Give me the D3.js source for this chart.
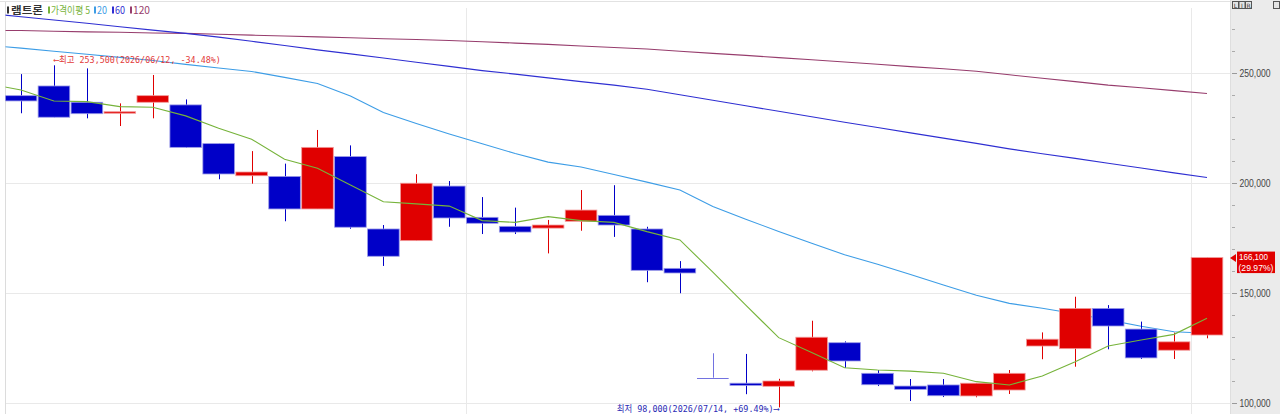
<!DOCTYPE html>
<html><head><meta charset="utf-8">
<script src="https://cdn.jsdelivr.net/npm/d3@7"></script>
<style>html,body{margin:0;padding:0;background:#fff;overflow:hidden}</style>
</head><body><svg id="c" width="1280" height="414"></svg>
<script>
// ---- data (first date is the session before the visible window; only its MA values are used) ----
const dates = ["2026/06/10","2026/06/11","2026/06/12","2026/06/15","2026/06/16","2026/06/17","2026/06/18","2026/06/19",
"2026/06/22","2026/06/23","2026/06/24","2026/06/25","2026/06/26","2026/06/29","2026/06/30","2026/07/01","2026/07/02",
"2026/07/03","2026/07/06","2026/07/07","2026/07/08","2026/07/09","2026/07/10","2026/07/13","2026/07/14","2026/07/15",
"2026/07/16","2026/07/17","2026/07/20","2026/07/21","2026/07/22","2026/07/23","2026/07/24","2026/07/27","2026/07/28",
"2026/07/29","2026/07/30","2026/07/31"];
const openV  = [null,239700,244100,236700,231700,236700,235500,217900,203300,203000,188200,212000,179100,173800,198600,184400,180300,179500,182600,185300,179100,161200,111500,109000,107600,114900,127400,113500,107700,108200,103200,105900,125900,124700,143000,133600,124000,130900];
const highV  = [null,249500,253500,252100,236200,249100,238000,217900,214500,208800,224100,217100,180900,204000,200900,193600,188800,183200,196800,199000,180100,164500,122600,122300,111000,137400,128000,115000,110900,110900,109000,115000,132100,148300,144500,137000,132000,166100];
const lowV   = [null,231700,229900,229400,225900,229400,216000,201700,199700,182600,188200,179200,162300,173800,180100,176800,176800,168000,178300,175500,154900,149900,111500,104000,98000,114400,116000,107700,100900,102700,102600,104100,119900,116500,124400,120000,120000,129400];
const closeV = [null,237300,229900,231500,232400,239700,216200,204100,205000,188200,216200,179900,166700,199900,184100,181700,177700,180900,187700,180900,160300,159100,111500,108000,110000,129900,119100,108300,106200,103300,109000,113500,129000,143000,135000,120500,127800,166100];
const ma5   = [245100,242300,237300,237000,234700,234400,230500,224900,219900,210800,206700,199100,191500,190500,189500,182900,182100,184700,182900,182100,177900,174100,159500,144500,129700,123000,116000,115000,114500,113500,109700,108200,112300,118800,125900,128600,131200,138500];
const ma20  = [262600,261300,259900,258500,257100,255700,253900,252300,250700,248000,245200,239500,232000,227000,222300,217800,213400,209500,207300,203900,200400,196800,189300,183500,178000,172600,167400,163100,158400,153600,149000,145300,143100,140600,137800,134900,132400,131700];
const ma60  = [277100,275600,274100,272600,271000,269500,268000,266300,264400,262500,260500,258700,256800,254900,253000,251100,249500,247800,246100,244500,242600,240100,237600,235100,232600,230100,227600,225200,222800,220400,218000,215500,213300,211200,209000,206800,204600,202500];
const ma120 = [269400,269300,269000,268700,268500,268200,268000,267600,267200,266800,266400,266000,265600,265200,264800,264200,263600,263000,262300,261600,260900,259900,258900,258000,257000,256000,255000,254000,252900,251900,250800,249200,247600,246100,244500,243300,242000,240700];
const yTicksMajor = [100000,150000,200000,250000];
const yTicksMinor = [90000,110000,120000,130000,140000,160000,170000,180000,190000,210000,220000,230000,240000,260000,270000,280000];
const gridDates = ["2026/07/01","2026/07/31"];
const stockName = "램트론";
const legendItems = [["가격이평 5","#76b33a"],["20","#3d9de6"],["60","#2f2fd2"],["120","#973d6d"]];
const highInfo = {date:"2026/06/12", value:253500, pct:"-34.48%"};
const lowInfo  = {date:"2026/07/14", value:98000,  pct:"+69.49%"};
const lastInfo = {value:166100, pct:"29.97%"};

// ---- layout ----
const W = 1280, H = 414, plotL = 5, plotR = 1230, plotT = 2, plotB = H;
const UP = "#e00000", DOWN = "#0000c8";
const svg = d3.select("#c");
const x = d3.scalePoint().domain(dates).range([-11.95, 1207]);
const step = x.step();
const bw = step * 0.96;
const y = d3.scaleLinear().domain([100000, 250000]).range([403, 73]);
const fmt = d3.format(",");

svg.append("rect").attr("width", W).attr("height", H).attr("fill", "#fff");
const defs = svg.append("defs");
defs.append("clipPath").attr("id", "clip").append("rect")
  .attr("x", plotL + 0.5).attr("y", plotT).attr("width", plotR - plotL - 0.5).attr("height", plotB - plotT);

// grid
const grid = svg.append("g");
grid.selectAll("line.h").data(yTicksMajor).join("line")
  .attr("x1", plotL).attr("x2", plotR)
  .attr("y1", d => Math.round(y(d)) + 0.5).attr("y2", d => Math.round(y(d)) + 0.5)
  .attr("stroke", "#e9e9e9");
grid.selectAll("line.v").data(gridDates).join("line")
  .attr("x1", d => Math.round(x(d) - step / 2) + 0.5).attr("x2", d => Math.round(x(d) - step / 2) + 0.5)
  .attr("y1", 8).attr("y2", H).attr("stroke", "#e9e9e9");
// frame
svg.append("line").attr("x1", 0).attr("x2", plotR).attr("y1", 1.5).attr("y2", 1.5).attr("stroke", "#e2e2e2");
svg.append("line").attr("x1", plotL + 0.5).attr("x2", plotL + 0.5).attr("y1", 2).attr("y2", H).attr("stroke", "#dcdcdc");

const plot = svg.append("g").attr("clip-path", "url(#clip)");

// moving averages
const line = d3.line().x((d, i) => x(dates[i])).y(d => y(d));
[[ma120, "#973d6d"], [ma60, "#2f2fd2"], [ma20, "#3d9de6"]].forEach(([arr, col]) => {
  plot.append("path").attr("d", line(arr)).attr("fill", "none").attr("stroke", col).attr("stroke-width", 1.1);
});

// candles
const idx = d3.range(1, dates.length);
const cg = plot.append("g");
idx.forEach(i => {
  const o = openV[i], c = closeV[i], h = highV[i], l = lowV[i];
  const up = c > o, flat = c === o;
  const col = up ? UP : DOWN;
  const cx = Math.round(x(dates[i])) + 0.5;
  cg.append("line").attr("x1", cx).attr("x2", cx).attr("y1", y(h)).attr("y2", y(l))
    .attr("stroke", col).attr("stroke-width", 1).attr("opacity", flat ? 0.55 : 1);
  if (flat) {
    cg.append("line").attr("x1", x(dates[i]) - bw / 2).attr("x2", x(dates[i]) + bw / 2)
      .attr("y1", Math.round(y(o)) + 0.5).attr("y2", Math.round(y(o)) + 0.5)
      .attr("stroke", col).attr("opacity", 0.55);
  } else {
    const top = y(Math.max(o, c)), bot = y(Math.min(o, c));
    cg.append("rect").attr("x", x(dates[i]) - bw / 2).attr("width", bw)
      .attr("y", top).attr("height", Math.max(1.5, bot - top))
      .attr("fill", col).attr("stroke", up ? "#f29a9a" : "#9a9ae8").attr("stroke-width", 0.8);
  }
});

// MA5 on top
plot.append("path").attr("d", line(ma5)).attr("fill", "none").attr("stroke", "#76b33a").attr("stroke-width", 1.1);

// high / low annotations
const hi = dates.indexOf(highInfo.date), lo = dates.indexOf(lowInfo.date);
svg.append("text").attr("x", x(dates[hi])).attr("y", y(highInfo.value) - 2)
  .attr("font-family", "'DejaVu Sans Mono','Noto Sans CJK KR',monospace").attr("font-size", 9.5)
  .attr("fill", "#e23a3a").attr("textLength", 167).attr("lengthAdjust", "spacingAndGlyphs")
  .text(`⟵최고 ${fmt(highInfo.value)}(${highInfo.date}, ${highInfo.pct})`);
svg.append("text").attr("x", x(dates[lo])).attr("y", 412).attr("text-anchor", "end")
  .attr("font-family", "'DejaVu Sans Mono','Noto Sans CJK KR',monospace").attr("font-size", 9)
  .attr("fill", "#2a2ab4").attr("textLength", 162).attr("lengthAdjust", "spacingAndGlyphs")
  .text(`최저 ${fmt(lowInfo.value)}(${lowInfo.date}, ${lowInfo.pct})⟶`);

// legend
const lg = svg.append("g").attr("font-family", "'Noto Sans CJK KR',sans-serif").attr("font-size", 10.5);
lg.append("rect").attr("x", 7).attr("y", 6.5).attr("width", 2).attr("height", 7).attr("fill", "#333");
lg.append("text").attr("x", 11).attr("y", 14).attr("fill", "#333").attr("font-weight", "bold")
  .attr("textLength", 32).attr("lengthAdjust", "spacingAndGlyphs").text(stockName);
const lpos = [[48, 51, 39], [94, 97, 10], [112, 115, 10], [130, 133, 17]];
legendItems.forEach(([t, col], k) => {
  const [mx, tx, tl] = lpos[k];
  lg.append("rect").attr("x", mx).attr("y", 6.5).attr("width", 2).attr("height", 7).attr("fill", col);
  lg.append("text").attr("x", tx).attr("y", 14).attr("fill", col)
    .attr("textLength", tl).attr("lengthAdjust", "spacingAndGlyphs").text(t);
});

// right axis panel
svg.append("rect").attr("x", plotR).attr("y", 0).attr("width", W - plotR).attr("height", H).attr("fill", "#ebebeb");
svg.append("line").attr("x1", plotR + 0.5).attr("x2", plotR + 0.5).attr("y1", 0).attr("y2", H).attr("stroke", "#dedede");
const ax = svg.append("g").attr("transform", `translate(${plotR + 1},0)`);
ax.selectAll("line.mi").data(yTicksMinor).join("line")
  .attr("x1", 1).attr("x2", 4).attr("y1", d => Math.round(y(d)) + 0.5).attr("y2", d => Math.round(y(d)) + 0.5)
  .attr("stroke", "#aaa");
ax.selectAll("line.ma").data(yTicksMajor).join("line")
  .attr("x1", 1).attr("x2", 6).attr("y1", d => Math.round(y(d)) + 0.5).attr("y2", d => Math.round(y(d)) + 0.5)
  .attr("stroke", "#999");
ax.selectAll("text").data(yTicksMajor).join("text")
  .attr("x", 8.5).attr("y", d => Math.min(y(d) + 3.5, 407))
  .attr("font-family", "'Liberation Sans',Arial,sans-serif").attr("font-size", 10).attr("fill", "#444")
  .attr("textLength", 31).attr("lengthAdjust", "spacingAndGlyphs").text(d => fmt(d));

// top-right small buttons
const btn = svg.append("g").attr("font-family", "'DejaVu Sans',sans-serif").attr("font-size", 6).attr("text-anchor", "middle");
["L", "I", "R"].forEach((t, k) => {
  btn.append("rect").attr("x", 1232.5 + k * 6.5).attr("y", 1.5).attr("width", 6).attr("height", 7)
    .attr("fill", "#e4e4e4").attr("stroke", "#555").attr("stroke-width", 1);
  btn.append("text").attr("x", 1235.5 + k * 6.5).attr("y", 7.5).attr("fill", "#333").text(t);
});
btn.append("rect").attr("x", 1273.5).attr("y", 1.5).attr("width", 6).attr("height", 7)
  .attr("fill", "#e4e4e4").attr("stroke", "#555");

// last price tag
const ly = y(lastInfo.value);
svg.append("path").attr("d", `M1230,${ly + 0.5} L1236,${ly - 3.5} L1236,${ly + 4.5} Z`).attr("fill", "#e00000");
svg.append("rect").attr("x", 1237).attr("y", ly - 6).attr("width", 38).attr("height", 21.5).attr("fill", "#e00000");
const tg = svg.append("g").attr("font-family", "'Liberation Sans',Arial,sans-serif").attr("font-size", 9.5).attr("fill", "#fff");
tg.append("text").attr("x", 1239).attr("y", ly + 2.5).attr("textLength", 29).attr("lengthAdjust", "spacingAndGlyphs").text(fmt(lastInfo.value));
tg.append("text").attr("x", 1238.5).attr("y", ly + 13).attr("textLength", 35).attr("lengthAdjust", "spacingAndGlyphs").text(`(${lastInfo.pct})`);
</script></body></html>
